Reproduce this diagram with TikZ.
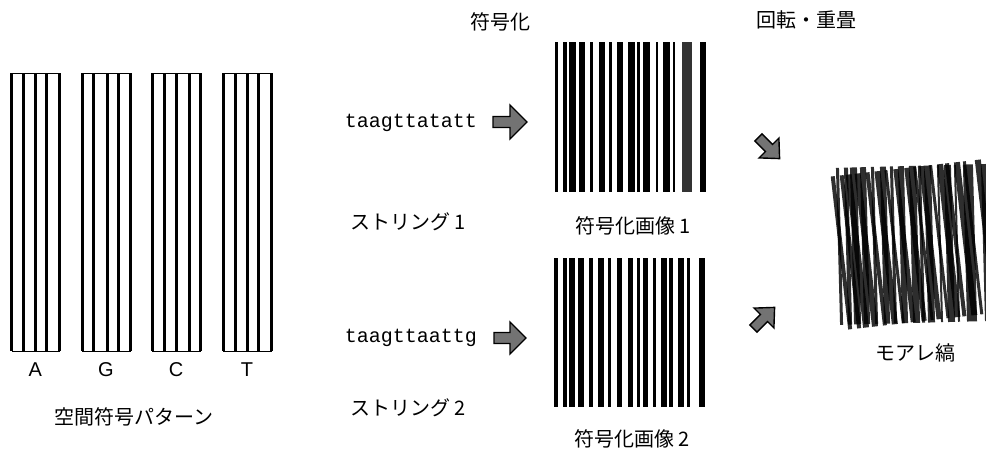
\documentclass[tikz,border=0pt]{standalone}
\usepackage{fontspec}
\setmainfont{Liberation Sans}
\setmonofont{Liberation Mono}
\newfontfamily\jp{Noto Sans CJK JP}
\def\barsA{555/558,563/567,569/576,579/585,590/593,599/605,609/612,617/623,628/635,637/640,643/650,656/658,663/670,673/675,682/692,700/706}
\def\barsB{554/558,563/567,569/575,578/584,589/593,598/604,608/611,617/622,628/633,637/640,643/648,653/656,661/667,669/673,678/684,687/690,699/705}
% block arrow: name, x, y, angle, half length, shaft half width, head half width
\newcommand\blockarrowat[7]{%
  \begin{scope}[shift={(#2,#3)}, rotate=#4]
    \filldraw[arrowlook] (-#5,-#6) -- (0,-#6) -- (0,-#7) -- (#5,0) -- (0,#7) -- (0,#6) -- (-#5,#6) -- cycle;
    \coordinate (#1) at (0,0);
  \end{scope}}
\begin{document}
\begin{tikzpicture}[x=1pt,y=-1pt,
  jptext/.style={font=\jp\fontsize{20}{24}\selectfont, inner sep=0pt},
  seqtext/.style={font=\ttfamily\fontsize{20}{24}\selectfont, inner sep=0pt},
  lettertext/.style={font=\fontsize{20}{24}\selectfont, inner sep=0pt},
  arrowlook/.style={draw=black, line width=1.4pt, fill=black!55, line join=miter},
  patbox/.style={draw=black, line width=1pt, inner sep=0pt, anchor=north west},
  patline/.style={line width=3pt},
  imgbox/.style={inner sep=0pt, anchor=north west, minimum width=151pt, minimum height=150pt},
  barfill/.style={fill=black},
  moirebar/.style={fill=black, opacity=0.82},
]
\useasboundingbox (0,0) rectangle (986,450);

% spatial code patterns
\foreach \nm/\xa/\xb/\xc/\xd/\xe in {A/11.5/23.5/35/46.5/59, G/82/93/107/118/130, C/152/164/176/189/200, T/223/235/247/258/271} {
  \node[patbox, minimum width={(\xe-\xa)*1pt}, minimum height=278pt] (box\nm) at (\xa,73) {};
  \foreach \x in {\xa,\xb,\xc,\xd,\xe} \draw[patline] (\x,73) -- (\x,351);
  \node[lettertext] (lbl\nm) at ({(\xa+\xe)/2},370) {\nm};
}
\node[jptext] (pat) at (134,417) {空間符号パターン};

% encoding
\node[jptext] (enc) at (500,22) {符号化};
\node[seqtext] (s1) at (411,123) {taagttatatt};
\node[seqtext] (s2) at (411,338) {taagttaattg};
\node[jptext] (str1) at (408,222) {ストリング 1};
\node[jptext] (str2) at (408,408) {ストリング 2};
\blockarrowat{arr1}{510}{122}{0}{17}{5.5}{17}
\blockarrowat{arr2}{510}{338}{0}{16}{5.5}{16}

% encoded images
\node[imgbox] (img1) at (555,42) {};
\foreach \a/\b in \barsA \fill[barfill] (\a,42) rectangle (\b,192);
\fill[black!80] (682,42) rectangle (692,192);
\node[imgbox] (img2) at (555,258) {};
\foreach \a/\b in \barsB \fill[barfill] (\a,258) rectangle (\b,407);
\node[jptext] (cap1) at (633,226) {符号化画像 1};
\node[jptext] (cap2) at (632,439) {符号化画像 2};

% rotation / superposition
\node[jptext] (rot) at (806,20) {回転・重畳};
\blockarrowat{arr3}{769}{148}{-45}{15}{5}{14}
\blockarrowat{arr4}{764}{318}{45}{15}{5}{14}

% moire
\begin{scope}
  \clip (815,140) rectangle (986,330);
  \begin{scope}[rotate around={6.5:(910,245)}]
    \foreach \a/\b in \barsB \fill[moirebar] (\a+285,168) rectangle (\b+285,322);
  \end{scope}
  \begin{scope}[rotate around={1.5:(910,245)}]
    \foreach \a/\b in \barsA \fill[moirebar] (\a+283,166) rectangle (\b+283,323);
  \end{scope}
\end{scope}
\node[jptext] (moire) at (915,353) {モアレ縞};
\end{tikzpicture}
\end{document}
